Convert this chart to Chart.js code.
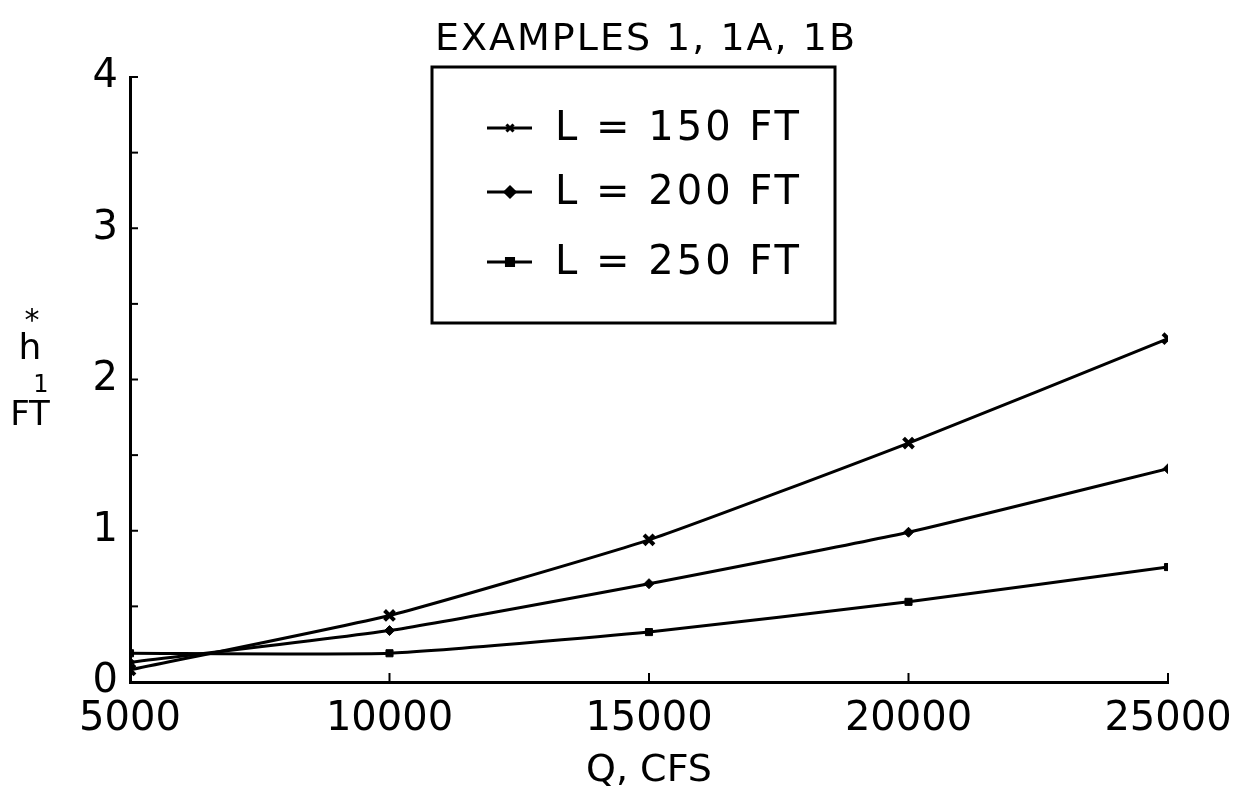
<!DOCTYPE html>
<html>
<head>
<meta charset="utf-8">
<script src="https://cdn.jsdelivr.net/npm/chart.js@4.4.1/dist/chart.umd.min.js"></script>
<style>
  html, body { margin:0; padding:0; background:#fff; }
  #wrap { width:1236px; height:794px; position:relative; }
</style>
</head>
<body>
<div id="wrap"><canvas id="chartjs"></canvas></div>
<script>
// data
var chart_title = "EXAMPLES 1, 1A, 1B";
var q_cfs = [5000, 10000, 15000, 20000, 25000];
var h_150 = [0.08, 0.44, 0.94, 1.58, 2.27];
var h_200 = [0.13, 0.34, 0.65, 0.99, 1.41];
var h_250 = [0.19, 0.19, 0.33, 0.53, 0.76];
var series_labels = ["L = 150 FT", "L = 200 FT", "L = 250 FT"];
var point_styles = ["crossRot", "rectRot", "rect"];
var y_title = ["*", "h", "1", "FT"];
var x_title = "Q, CFS";
var y_ticks = [0, 1, 2, 3, 4];
var x_ticks = [5000, 10000, 15000, 20000, 25000];

var FONT = "'DejaVu Sans', sans-serif";

function pts(vals){
    var out = [];
    for (var i in q_cfs) { out.push({x:q_cfs[i], y:vals[i]}); }
    return out;
}

function mkSet(label, vals, style){
    return {
        label: label,
        data: pts(vals),
        borderColor: "#000",
        backgroundColor: "#000",
        borderWidth: 3,
        pointStyle: style,
        pointRadius: style == "crossRot" ? 7 : 5,
        pointBorderWidth: style == "crossRot" ? 4 : 1,
        tension: 0.15,
        fill: false
    };
}

// draws the stuff chart.js won't put where the scan has it
var extras = {
    id: "extras",
    afterDraw: function(chart){
        var ctx = chart.ctx;
        var a = chart.chartArea;
        var xs = chart.scales.x, ys = chart.scales.y;
        ctx.save();
        ctx.strokeStyle = "#000";
        ctx.fillStyle = "#000";
        ctx.lineWidth = 2;

        // inward ticks
        for (var v = 0; v <= 4; v += 0.5) {
            var py = ys.getPixelForValue(v);
            ctx.beginPath(); ctx.moveTo(a.left, py); ctx.lineTo(a.left + 8, py); ctx.stroke();
        }
        for (var i in x_ticks) {
            var px = xs.getPixelForValue(x_ticks[i]);
            ctx.beginPath(); ctx.moveTo(px, a.bottom); ctx.lineTo(px, a.bottom - 9); ctx.stroke();
        }

        // title
        ctx.textAlign = "center";
        ctx.textBaseline = "middle";
        ctx.letterSpacing = "2px";
        ctx.font = "38px " + FONT;
        ctx.fillText(chart_title, (a.left + a.right) / 2 - 3, 40);

        // y title, stacked
        ctx.letterSpacing = "0px";
        ctx.font = "30px " + FONT;
        ctx.fillText(y_title[0], 32, 322);
        ctx.font = "36px " + FONT;
        ctx.fillText(y_title[1], 30, 350);
        ctx.font = "24px " + FONT;
        ctx.fillText(y_title[2], 41, 386);
        ctx.font = "34px " + FONT;
        ctx.fillText(y_title[3], 30, 416);

        // legend box
        var bx = 432, by = 67, bw = 403, bh = 256;
        ctx.lineWidth = 3;
        ctx.strokeRect(bx, by, bw, bh);
        ctx.font = "40px " + FONT;
        ctx.letterSpacing = "3px";
        ctx.textAlign = "left";
        var rows = [128, 192, 262];
        chart.data.datasets.forEach(function(ds, k){
            var ly = rows[k];
            ctx.lineWidth = 3;
            ctx.beginPath(); ctx.moveTo(487, ly); ctx.lineTo(532, ly); ctx.stroke();
            Chart.helpers.drawPoint(ctx, {pointStyle: ds.pointStyle, radius: 5, rotation: 0, borderWidth: 2}, 510, ly);
            ctx.fillText(ds.label, 555, ly + 2);
        });
        ctx.restore();
    }
};

var graph = new Chart(document.getElementById("chartjs"), {
    type: "line",
    data: {
        datasets: [
            mkSet(series_labels[0], h_150, point_styles[0]),
            mkSet(series_labels[1], h_200, point_styles[1]),
            mkSet(series_labels[2], h_250, point_styles[2])
        ]
    },
    options: {
        responsive: true,
        maintainAspectRatio: false,
        animation: false,
        layout: { padding: { top: 77, right: 68, left: 0, bottom: 0 } },
        plugins: {
            legend: { display: false },
            title: { display: false },
            tooltip: { enabled: false }
        },
        scales: {
            x: {
                type: "linear",
                min: 5000, max: 25000,
                afterFit: function(s){ s.height = 112; s.paddingRight = 0; s.paddingLeft = 0; },
                afterBuildTicks: function(s){ s.ticks = x_ticks.map(function(v){ return {value:v}; }); },
                grid: { display: false, drawTicks: false },
                border: { display: true, color: "#000", width: 3 },
                ticks: { color: "#000", font: { family: FONT, size: 40 }, padding: 14, maxRotation: 0, callback: function(v){ return String(v); } },
                title: { display: true, text: x_title, color: "#000", font: { family: FONT, size: 38 }, padding: { top: 0, bottom: 0 } }
            },
            y: {
                min: 0, max: 4,
                afterFit: function(s){ s.width = 130; },
                afterBuildTicks: function(s){ s.ticks = y_ticks.map(function(v){ return {value:v}; }); },
                grid: { display: false, drawTicks: false },
                border: { display: true, color: "#000", width: 3 },
                ticks: { color: "#000", font: { family: FONT, size: 40 }, padding: 12 }
            }
        }
    },
    plugins: [extras]
});
</script>
</body>
</html>
